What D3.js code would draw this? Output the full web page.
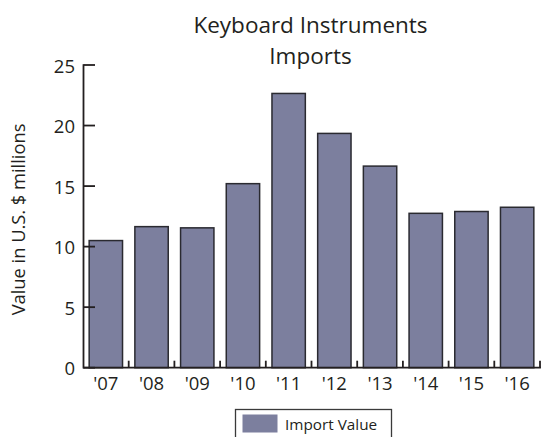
<!DOCTYPE html>
<html>
<head>
<meta charset="utf-8">
<script src="https://cdn.jsdelivr.net/npm/d3@7"></script>
<style>
  html, body { margin: 0; padding: 0; background: #fff; }
  svg { display: block; }
  text { font-family: "Open Sans", "Noto Sans", sans-serif; fill: #231f20; }
</style>
</head>
<body>
<script>
// Keyboard instrument import values, U.S. $ millions
const years = ["'07", "'08", "'09", "'10", "'11", "'12", "'13", "'14", "'15", "'16"];
const importValues = [10.5, 11.65, 11.55, 15.2, 22.65, 19.35, 16.65, 12.75, 12.9, 13.25];
const yTicks = [0, 5, 10, 15, 20, 25];
const titleLines = ["Keyboard Instruments", "Imports"];
const yLabel = "Value in U.S. $ millions";
const seriesName = "Import Value";

const W = 543, H = 437;
const ink = "#231f20";
const barFill = "#7c7f9e";

const svg = d3.select("body").append("svg")
  .attr("width", W).attr("height", H);

const x = d3.scaleBand()
  .domain(years)
  .range([83, 540])
  .paddingInner(0.27)
  .paddingOuter(0.135);

const y = d3.scaleLinear()
  .domain([0, 25])
  .range([367.7, 65]);

// Title
svg.append("g").selectAll("text")
  .data(titleLines)
  .join("text")
  .attr("x", 310.5)
  .attr("y", (d, i) => 33 + i * 31)
  .attr("text-anchor", "middle")
  .attr("font-size", 22.5)
  .text(d => d);

// Bars
svg.append("g").selectAll("rect")
  .data(importValues)
  .join("rect")
  .attr("x", (d, i) => x(years[i]))
  .attr("width", x.bandwidth())
  .attr("y", d => y(d))
  .attr("height", d => y(0) - y(d))
  .attr("fill", barFill)
  .attr("stroke", "#2a2a30")
  .attr("stroke-width", 1.5);

// Y axis: line with inward ticks
const yAxis = svg.append("g");
yAxis.append("line")
  .attr("x1", 83.5).attr("x2", 83.5)
  .attr("y1", y(25) - 0.8).attr("y2", y(0) + 0.8)
  .attr("stroke", ink).attr("stroke-width", 1.8);
yAxis.selectAll("line.tick")
  .data(yTicks)
  .join("line")
  .attr("class", "tick")
  .attr("x1", 83.5).attr("x2", 95)
  .attr("y1", d => y(d)).attr("y2", d => y(d))
  .attr("stroke", ink).attr("stroke-width", 1.8);
yAxis.selectAll("text")
  .data(yTicks)
  .join("text")
  .attr("x", 75)
  .attr("y", d => y(d) + 7.5)
  .attr("text-anchor", "end")
  .attr("font-size", 18.5)
  .text(d => d);

// X axis: baseline with upward ticks between categories
const xAxis = svg.append("g");
xAxis.append("line")
  .attr("x1", 83.5).attr("x2", x.range()[1] + 0.9)
  .attr("y1", y(0)).attr("y2", y(0))
  .attr("stroke", ink).attr("stroke-width", 1.8);
const boundary = d => x(d) + x.bandwidth() + x.step() * x.paddingInner() / 2;
xAxis.selectAll("line.tick")
  .data(years)
  .join("line")
  .attr("class", "tick")
  .attr("x1", d => boundary(d)).attr("x2", d => boundary(d))
  .attr("y1", y(0) - 7).attr("y2", y(0))
  .attr("stroke", ink).attr("stroke-width", 1.8);
xAxis.selectAll("text")
  .data(years)
  .join("text")
  .attr("x", d => x(d) + x.bandwidth() / 2)
  .attr("y", 389.5)
  .attr("text-anchor", "middle")
  .attr("font-size", 18.5)
  .text(d => d);

// Y axis title
svg.append("text")
  .attr("transform", "translate(24.5,219.5) rotate(-90)")
  .attr("text-anchor", "middle")
  .attr("font-size", 18.3)
  .text(yLabel);

// Legend
const legend = svg.append("g");
legend.append("rect")
  .attr("x", 235.5).attr("y", 409.5)
  .attr("width", 156).attr("height", 40)
  .attr("fill", "none")
  .attr("stroke", "#3a3a3a").attr("stroke-width", 1.3);
legend.append("rect")
  .attr("x", 242.5).attr("y", 414.5)
  .attr("width", 35).attr("height", 18)
  .attr("fill", barFill);
legend.append("text")
  .attr("x", 285).attr("y", 429.5)
  .attr("font-size", 15.3)
  .text(seriesName);
</script>
</body>
</html>
